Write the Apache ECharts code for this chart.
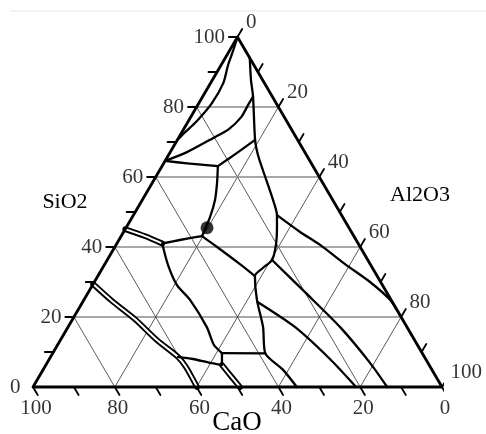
<!DOCTYPE html>
<html>
<head>
<meta charset="utf-8">
<script src="https://cdn.jsdelivr.net/npm/echarts@6/dist/echarts.min.js"></script>
<style>
html,body{margin:0;padding:0;background:#ffffff;}
#chart{width:486px;height:434px;}
</style>
</head>
<body>
<div id="chart"></div>
<script>
// CaO–SiO2–Al2O3 ternary diagram. Every point is [SiO2, Al2O3] in wt% (CaO = 100 - SiO2 - Al2O3).
const SIO2_TICKS = [0, 20, 40, 60, 80, 100];
const AL2O3_TICKS = [0, 20, 40, 60, 80, 100];
const CAO_TICKS = [100, 80, 60, 40, 20, 0];
const MINOR_TICKS = [10, 30, 50, 70, 90];
const GRID_LEVELS = [20, 40, 60, 80];
const AXIS_NAMES = ['SiO2', 'Al2O3', 'CaO'];

// boundary curves (single lines)
const silicaBoundary = [[100,0],[96.5,0.8],[92,1.7],[86.9,3.1],[81.1,3.2],[75.7,2],[72.6,0.7],[70.5,0]];
const curveB = [[64.6,0],[67.1,4.1],[71.1,8.45],[73.7,11.05],[77.1,12.35],[80.6,12.3],[83,12.3]];
const curveC = [[94,6],[87.7,9.45],[83,12.3],[70.6,19],[66.3,21.85],[62,25.2],[53.4,32],[49.1,35.1],[45.7,36.8],[40.6,39.1],[36.3,40.3],[34,39.2],[31.7,38.4],[24.9,42.3],[17.1,47.7],[9.6,52],[4.9,58.7],[0,64.5]];
const curveD = [[63.1,13.65],[66.9,16.45],[70.6,19]];
const curveE = [[64.6,0],[63.9,5.7],[63.1,13.65]];
const curveN = [[43.1,19.75],[48.6,19],[53.4,17.8],[58.3,15.85],[63.1,13.65]];
const curveM = [[41,11.1],[42,14.9],[42.9,18.65],[43.1,19.75]];
const curveP = [[43.1,19.75],[40,25],[35.1,33.05],[31.7,38.4]];
const curveF = [[41,11.1],[34.9,15.55],[29.1,20.65],[24.9,25.95],[17.1,33.95],[12,38.25],[9.7,41.35]];
const curveS = [[9.7,41.35],[9.6,52]];
const curveI = [[49.1,35.1],[44.3,43.15],[40.6,49.9],[35.1,58.75],[30,67.4],[24.9,74.85],[20.5,79.5]];
const curveK = [[36.3,40.3],[27.1,52.95],[17.1,66.55],[6.9,78.95],[0,86.6]];
const curveL = [[24.3,42.75],[17.1,55.55],[8,68.6],[0,79]];
const curveQ = [[8.6,31.15],[8,35.1],[6.9,39.85],[6.3,43.05],[9.7,41.35]];
// boundary curves drawn as double lines
const curveG = [[45.1,0],[43.1,5.85],[41,11.1]];
const curveH = [[29.4,0],[24.6,7],[19.4,15.2],[13.4,23.6],[8.6,31.15],[5.7,34.55],[0,40.1]];
const curveR = [[6.3,43.05],[3.1,46.85],[0,50.6]];
// marked composition
const markedPoint = [45.5, 19.8];

const singleCurves = [silicaBoundary, curveB, curveC, curveD, curveE, curveN, curveM, curveP, curveF, curveS, curveI, curveK, curveL, curveQ];
const doubleCurves = [curveG, curveH, curveR];

// ternary -> cartesian (x: 0 at CaO corner, 100 at Al2O3 corner; y: SiO2)
function pt(p) { return [p[1] + p[0] / 2, p[0]]; }

const FONT = '"Liberation Serif", "Times New Roman", serif';
const series = [];
function addLine(points, color, width, z, smooth) {
  series.push({
    type: 'line', data: points.map(pt), symbol: 'none', showSymbol: false,
    silent: true, clip: false, animation: false, z: z, smooth: smooth || false,
    lineStyle: { color: color, width: width, cap: 'round', join: 'round' }
  });
}

// grid lines
GRID_LEVELS.forEach(function (v) {
  addLine([[v, 0], [v, 100 - v]], '#8c8c8c', 1.3, 1);          // constant SiO2
  addLine([[100 - v, 0], [0, 100 - v]], '#3c3c3c', 0.85, 1);   // constant CaO
  addLine([[100 - v, v], [0, v]], '#3c3c3c', 0.85, 1);         // constant Al2O3
});

// ticks
SIO2_TICKS.concat(MINOR_TICKS).forEach(function (t) {
  addLine([[t, 0], [t, -2.1]], '#000', 1.8, 5);
});
CAO_TICKS.concat(MINOR_TICKS).forEach(function (c) {
  addLine([[0, 100 - c], [-2.3, 102.3 - c]], '#000', 1.8, 5);
});
AL2O3_TICKS.concat(MINOR_TICKS).forEach(function (a) {
  addLine([[100 - a, a], [102.3 - a, a]], '#000', 1.8, 5);
});

// boundaries
singleCurves.forEach(function (c) { addLine(c, '#000', 2.3, 4, 0.25); });
doubleCurves.forEach(function (c) {
  addLine(c, '#000', 5.8, 2, 0.25);
  addLine(c, '#fff', 2.0, 3, 0.25);
});

// triangle
addLine([[100, 0], [0, 0], [0, 100], [100, 0]], '#000', 2.8, 6);

// marked point
series.push({
  type: 'scatter', data: [pt(markedPoint)], symbolSize: 13, z: 7, silent: true,
  itemStyle: { color: '#000' }, animation: false
});

// tick labels
function labelSeries(values, toPoint, labelOpt) {
  series.push({
    type: 'scatter', symbolSize: 1, silent: true, animation: false, clip: false, z: 8,
    itemStyle: { color: 'rgba(0,0,0,0)' },
    data: values.map(function (v) { return { value: pt(toPoint(v)), name: String(v) }; }),
    label: Object.assign({ show: true, formatter: '{b}', color: '#000', fontSize: 21, fontFamily: FONT }, labelOpt)
  });
}
labelSeries(SIO2_TICKS, function (t) { return [t, 0]; }, { position: 'left', distance: 12 });
labelSeries(AL2O3_TICKS, function (a) { return [100 - a, a]; }, { position: 'right', distance: 8, offset: [0, -15] });
labelSeries(CAO_TICKS, function (c) { return [0, 100 - c]; }, { position: 'bottom', distance: 10, offset: [3, 0] });

const chart = echarts.init(document.getElementById('chart'), null, { renderer: 'canvas' });
chart.setOption({
  animation: false,
  backgroundColor: '#ffffff',
  grid: { left: 33, right: 44, top: 37, bottom: 47 },
  xAxis: { type: 'value', min: 0, max: 100, show: false },
  yAxis: { type: 'value', min: 0, max: 100, show: false },
  graphic: [
    { type: 'line', shape: { x1: 10, y1: 11, x2: 486, y2: 11 }, style: { stroke: '#e6e6e6', lineWidth: 1 }, silent: true },
    { type: 'text', x: 65, y: 202, style: { text: AXIS_NAMES[0], font: '22px ' + FONT, fill: '#000', textAlign: 'center', textVerticalAlign: 'middle' } },
    { type: 'text', x: 420, y: 195, style: { text: AXIS_NAMES[1], font: '22px ' + FONT, fill: '#000', textAlign: 'center', textVerticalAlign: 'middle' } },
    { type: 'text', x: 237, y: 423, style: { text: AXIS_NAMES[2], font: '27px ' + FONT, fill: '#000', textAlign: 'center', textVerticalAlign: 'middle' } }
  ],
  series: series
});
</script>
</body>
</html>
